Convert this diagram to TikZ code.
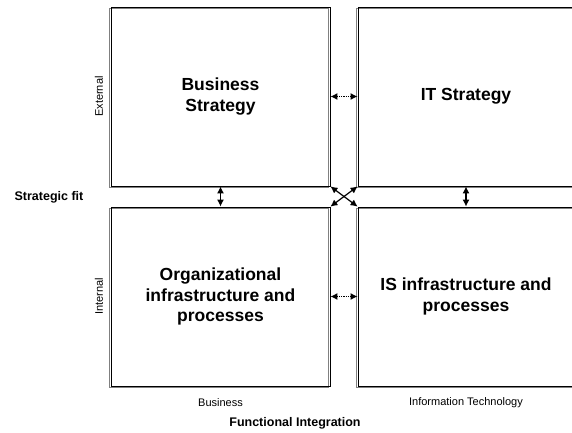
\documentclass[tikz,border=0pt]{standalone}
\usepackage{fontspec}
\setmainfont{Liberation Sans}
\usetikzlibrary{arrows.meta,positioning}

\begin{document}
\begin{tikzpicture}[x=1pt, y=-1pt,
	quad/.style={draw, line width=0.8pt, minimum width=219pt, minimum height=179pt, align=center, inner sep=0pt,
		preaction={draw=gray, line width=0.8pt, transform canvas={shift={(-1.2pt,-1.2pt)}}},
		font=\bfseries\fontsize{17.5}{20.5}\selectfont},
	fitarrow/.style={{Latex[length=7pt,width=7pt]}-{Latex[length=7pt,width=7pt]}, line width=1.2pt},
	linkarrow/.style={fitarrow, densely dotted},
	axis/.style={font=\fontsize{11}{13}\selectfont},
	title/.style={font=\bfseries\fontsize{12.5}{15}\selectfont}]
	\useasboundingbox (0,0) rectangle (572,433);
	\clip (0,0) rectangle (572,433);

	\node[quad] (bs) at (220.5,96.5) {Business\\Strategy};
	\node[quad, minimum width=216pt] (its) at (466,96.5) {IT Strategy};
	\node[quad] (org) at (220.5,296.5) {Organizational\\infrastructure and\\processes};
	\node[quad, minimum width=216pt] (isi) at (466,296.5) {IS infrastructure and\\processes};

	\node[axis, rotate=90] (ext) at (99,96.5) {External};
	\node[axis, rotate=90] (int) at (99,296.5) {Internal};
	\node[title] (fit) at (49,197) {Strategic fit};
	\node[axis] (bus) at (220.5,403) {Business};
	\node[axis] (tech) at (466,403) {Information Technology};
	\node[title] (fi) at (295,423) {Functional Integration};

	% links between the quadrants
	\draw[linkarrow] (bs.east) -- (its.west);
	\draw[linkarrow] (org.east) -- (isi.west);
	\draw[fitarrow] (bs.south) -- (org.north);
	\draw[fitarrow] (its.south) -- (isi.north);
	\draw[fitarrow] (bs.south east) -- (isi.north west);
	\draw[fitarrow] (its.south west) -- (org.north east);
\end{tikzpicture}
\end{document}
